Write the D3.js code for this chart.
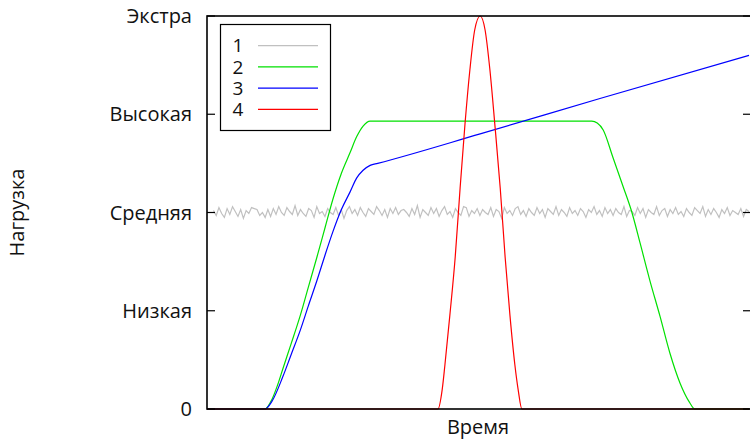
<!DOCTYPE html>
<html>
<head>
<meta charset="utf-8">
<script src="https://cdn.jsdelivr.net/npm/d3@7/dist/d3.min.js"></script>
<style>
body { margin: 0; background: #fff; }
text { font-family: "Open Sans", "Noto Sans", sans-serif; fill: #111; }
</style>
</head>
<body>
<script>
// уровни нагрузки (подписи оси Y)
var levels = ['0', 'Низкая', 'Средняя', 'Высокая', 'Экстра'];
var seriesNames = ['1', '2', '3', '4'];
var seriesColors = ['#c0c0c0', '#00e000', '#0000ff', '#ff0000'];

// 1 - шум около уровня "Средняя"
var s1 = [2.02,1.97,2.05,1.99,1.95,2.04,1.98,2.06,2.01,1.96,2.03,1.94,2.02,1.99,2.05,2.04,2.03,1.97,2.00,1.95,
  2.03,1.96,2.04,1.98,2.06,2.00,1.97,2.05,2.01,1.98,2.07,1.97,2.03,1.99,1.96,2.04,2.02,1.95,2.06,1.99,
  2.01,1.96,2.04,2.00,1.98,2.05,1.97,2.03,1.94,2.02,2.06,1.99,2.03,1.97,2.05,2.00,1.96,2.04,2.01,1.98,
  2.06,2.02,1.97,2.03,1.95,2.04,1.99,2.05,1.98,2.02,2.03,2.00,1.96,2.04,1.98,2.07,1.95,2.03,2.00,1.97,
  2.05,1.99,2.04,1.96,2.02,2.06,1.98,2.01,1.95,2.04,2.00,1.97,2.06,2.05,1.96,2.02,1.99,2.04,1.97,2.03,
  2.00,1.98,2.05,1.96,2.03,2.01,1.94,2.05,1.99,2.02,1.97,2.04,2.06,1.98,2.02,1.96,2.04,2.00,1.97,2.05,
  1.99,2.03,1.95,2.04,2.01,1.98,2.06,1.97,2.03,2.00,1.96,2.05,1.99,2.02,1.97,2.04,2.01,1.95,2.03,2.00,
  2.06,1.98,2.02,1.96,2.05,1.99,2.03,1.97,2.04,2.00,1.98,2.06,1.96,2.02,2.01,1.97,2.05,1.99,2.04,1.95,
  2.03,2.00,1.98,2.06,1.97,2.02,2.04,1.96,2.03,1.99,2.05,1.98,2.01,1.96,2.04,2.00,1.97,2.05,2.02,1.99,
  2.06,1.96,2.03,1.98,2.04,2.00,1.95,2.03,1.99,2.05,1.97,2.02,2.00,1.98,2.04,1.96,2.03,2.01];

// 2 - подъём, плато, спад
var s2x = [0,10.7,12,13,14,15.5,17.2,18.7,20.3,21.8,23.2,24.8,26.4,27.6,28.8,30.1,
  71.0,72,73.1,74.9,76.8,78.4,79.9,81.7,83.6,85.4,87.3,89.0,90.0,100];
var s2y = [0,0,0.10,0.24,0.41,0.66,0.95,1.24,1.55,1.85,2.13,2.40,2.61,2.77,2.88,2.93,
  2.93,2.91,2.84,2.56,2.26,2.00,1.69,1.31,0.94,0.57,0.26,0.07,0,0];

// 3 - подъём и линейный рост
var s3x = [0,10.7,12,14,15.5,17.2,18.7,20.3,21.8,23.2,24.8,26.4,27.6,28.8,30.1,31.5,50.4,72.5,100];
var s3y = [0,0,0.08,0.33,0.55,0.80,1.05,1.31,1.57,1.80,2.03,2.21,2.35,2.43,2.48,2.50,2.80,3.16,3.60];

// 4 - пик
var s4x = [0,42.6,43.4,43.9,44.8,45.8,46.7,47.6,48.5,49.4,50.4,51.3,52.2,53.1,54.1,55.0,55.9,56.8,57.4,58.1,100];
var s4y = [0,0,0.20,0.45,0.95,1.55,2.25,2.90,3.45,3.86,4.00,3.86,3.45,2.90,2.25,1.55,0.95,0.45,0.20,0,0];

var W = 750, H = 441;
var L = 207, R = 749, T = 16, B = 409;
var fs = '20px';

var svg = d3.select('body').append('svg').attr('width', W).attr('height', H);

var x = d3.scaleLinear().domain([0, 100]).range([L, R]);
var y = d3.scaleLinear().domain([0, 4]).range([B, T]);
var xi = d3.scaleLinear().domain([0, s1.length - 1]).range([1.2, 100]);

var line = d3.line()
  .x(function(d){ return x(d[0]); })
  .y(function(d){ return y(d[1]); });

var zip = function(a, b){ return a.map(function(v, i){ return [v, b[i]]; }); };

var data = [
  s1.map(function(v, i){ return [xi(i), v]; }),
  zip(s2x, s2y),
  zip(s3x, s3y),
  zip(s4x, s4y)
];

svg.append('clipPath').attr('id', 'clip')
  .append('rect').attr('x', L).attr('y', T - 1).attr('width', R - L + 2).attr('height', B - T + 2);

var plot = svg.append('g').attr('clip-path', 'url(#clip)');
data.forEach(function(d, i){
  plot.append('path')
    .attr('d', (i == 0 ? line.curve(d3.curveLinear) : line.curve(d3.curveMonotoneX))(d))
    .style('fill', 'none')
    .style('stroke', seriesColors[i])
    .style('stroke-width', '1.2px');
});

// рамка и засечки
svg.append('rect')
  .attr('x', L).attr('y', T).attr('width', R - L + 2).attr('height', B - T)
  .style('fill', 'none').style('stroke', '#000').style('stroke-width', '1.6px');

levels.forEach(function(lab, i){
  svg.append('line').attr('x1', L).attr('x2', L + 8).attr('y1', y(i)).attr('y2', y(i))
    .style('stroke', '#000').style('stroke-width', '1.2px');
  svg.append('line').attr('x1', R - 6).attr('x2', R + 2).attr('y1', y(i)).attr('y2', y(i))
    .style('stroke', '#000').style('stroke-width', '1.2px');
  svg.append('text')
    .attr('x', 192).attr('y', y(i))
    .attr('dy', '0.35em')
    .attr('text-anchor', 'end')
    .style('font-size', fs)
    .text(lab);
});

svg.append('text')
  .attr('x', (L + R) / 2).attr('y', 434)
  .attr('text-anchor', 'middle')
  .style('font-size', fs)
  .text('Время');

svg.append('text')
  .attr('transform', 'translate(24,' + ((T + B) / 2) + ') rotate(-90)')
  .attr('text-anchor', 'middle')
  .style('font-size', fs)
  .text('Нагрузка');

// легенда
var leg = svg.append('g');
leg.append('rect')
  .attr('x', 220.5).attr('y', 24.5).attr('width', 110).attr('height', 106)
  .style('fill', '#fff').style('stroke', '#000').style('stroke-width', '1.2px');
seriesNames.forEach(function(n, i){
  var yy = 45.7 + i * 21.2;
  leg.append('text').attr('x', 238).attr('y', yy).attr('dy', '0.35em')
    .attr('text-anchor', 'middle').style('font-size', '19px').text(n);
  leg.append('line').attr('x1', 258).attr('x2', 318).attr('y1', yy).attr('y2', yy)
    .style('stroke', seriesColors[i]).style('stroke-width', '1.2px');
});
</script>
</body>
</html>
